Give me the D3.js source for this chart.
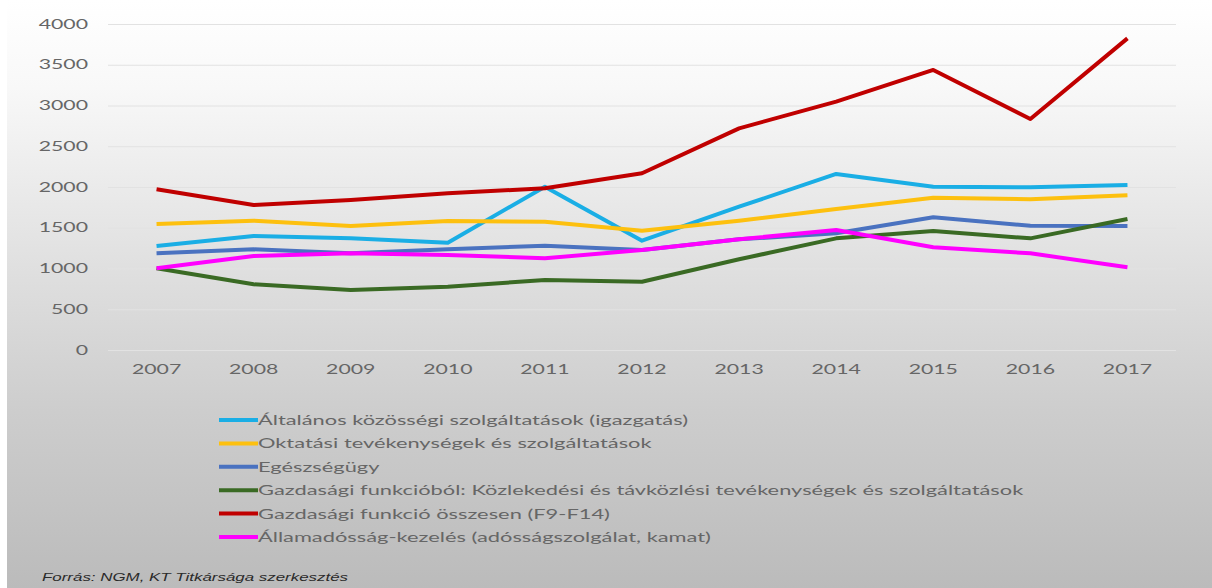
<!DOCTYPE html>
<html>
<head>
<meta charset="utf-8">
<script src="https://cdn.jsdelivr.net/npm/d3@7"></script>
<style>
  body { margin: 0; background: #fff; }
  svg { display: block; }
</style>
</head>
<body>
<svg id="chart" width="1212" height="588"></svg>
<script>
const years = ['2007', '2008', '2009', '2010', '2011', '2012', '2013', '2014', '2015', '2016', '2017'];
const yTicks = [0, 500, 1000, 1500, 2000, 2500, 3000, 3500, 4000];

const altalanos = [1276, 1399, 1370, 1317, 2004, 1341, 1758, 2160, 2004, 1996, 2025];
const oktatasi = [1546, 1587, 1521, 1583, 1575, 1464, 1587, 1730, 1869, 1849, 1898];
const egeszsegugy = [1186, 1235, 1186, 1235, 1280, 1227, 1358, 1432, 1628, 1525, 1521];
const kozlekedesi = [1002, 806, 736, 777, 859, 838, 1113, 1370, 1460, 1370, 1607];
const gazdasagi = [1972, 1779, 1840, 1923, 1984, 2168, 2720, 3047, 3436, 2834, 3824];
const allamadossag = [1002, 1153, 1186, 1166, 1125, 1227, 1358, 1472, 1260, 1186, 1015];

const seriesNames = [
  'Általános közösségi szolgáltatások (igazgatás)',
  'Oktatási tevékenységek és szolgáltatások',
  'Egészségügy',
  'Gazdasági funkcióból: Közlekedési és távközlési tevékenységek és szolgáltatások',
  'Gazdasági funkció összesen (F9-F14)',
  'Államadósság-kezelés (adósságszolgálat, kamat)'
];
const seriesColors = ['#1aaee5', '#fdc00f', '#4a72c0', '#3a6a24', '#c00000', '#ff00ff'];
const source = 'Forrás: NGM, KT Titkársága szerkesztés';

const series = [altalanos, oktatasi, egeszsegugy, kozlekedesi, gazdasagi, allamadossag]
  .map((values, i) => ({ name: seriesNames[i], color: seriesColors[i], values }));

// the picture is stretched sideways, so text is widened to match
function widen(sel, k) {
  sel.each(function() {
    const w = this.getComputedTextLength();
    d3.select(this).attr('textLength', w * k).attr('lengthAdjust', 'spacingAndGlyphs');
  });
}

const svg = d3.select('#chart');
const defs = svg.append('defs');
const grad = defs.append('linearGradient')
  .attr('id', 'bg').attr('x1', 0).attr('y1', 0).attr('x2', 0).attr('y2', 1);
[[0, '#ffffff'], [0.15, '#f8f8f8'], [0.45, '#e0e0e0'], [0.7, '#cdcdcd'], [1, '#bbbbbb']]
  .forEach(([o, c]) => grad.append('stop').attr('offset', o).attr('stop-color', c));

svg.append('rect').attr('x', 7).attr('y', 0).attr('width', 1205).attr('height', 588)
  .attr('fill', 'url(#bg)');

const x = d3.scaleBand().domain(years).range([108, 1176]);
const y = d3.scaleLinear().domain([0, 4000]).range([350, 24]);

const yAxis = svg.append('g')
  .attr('transform', 'translate(108,0)')
  .call(d3.axisLeft(y).tickValues(yTicks).tickFormat(d3.format('d')).tickSize(-1068).tickPadding(20));
yAxis.select('.domain').remove();
yAxis.selectAll('.tick line').attr('stroke', '#e2e2e2').attr('stroke-width', 1);
yAxis.selectAll('.tick text')
  .attr('fill', '#666').attr('font-family', 'Lato').attr('font-size', 12.5)
  .call(widen, 1.7);

const xAxis = svg.append('g')
  .attr('transform', 'translate(0,350)')
  .call(d3.axisBottom(x).tickSize(0).tickPadding(15));
xAxis.select('.domain').remove();
xAxis.selectAll('.tick text')
  .attr('fill', '#666').attr('font-family', 'Lato').attr('font-size', 12.5)
  .call(widen, 1.7);

const line = d3.line()
  .x((d, i) => x(years[i]) + x.bandwidth() / 2)
  .y(d => y(d));

svg.append('g').selectAll('path')
  .data(series)
  .join('path')
  .attr('d', d => line(d.values))
  .attr('fill', 'none')
  .attr('stroke', d => d.color)
  .attr('stroke-width', 4)
  .attr('stroke-linejoin', 'round');

const legend = svg.append('g').attr('transform', 'translate(219,420)');
const item = legend.selectAll('g')
  .data(series)
  .join('g')
  .attr('transform', (d, i) => `translate(0,${i * 23.4})`);
item.append('line')
  .attr('x1', 0).attr('x2', 39)
  .attr('stroke', d => d.color).attr('stroke-width', 4);
item.append('text')
  .attr('x', 39).attr('dy', '0.35em')
  .attr('fill', '#666').attr('font-family', 'Lato').attr('font-size', 14)
  .text(d => d.name)
  .call(widen, 1.56);

svg.append('text')
  .attr('x', 42).attr('y', 581)
  .attr('fill', '#2a2a2a').attr('font-family', 'Liberation Sans').attr('font-size', 10)
  .attr('font-style', 'italic')
  .text(source)
  .call(widen, 1.69);
</script>
</body>
</html>
